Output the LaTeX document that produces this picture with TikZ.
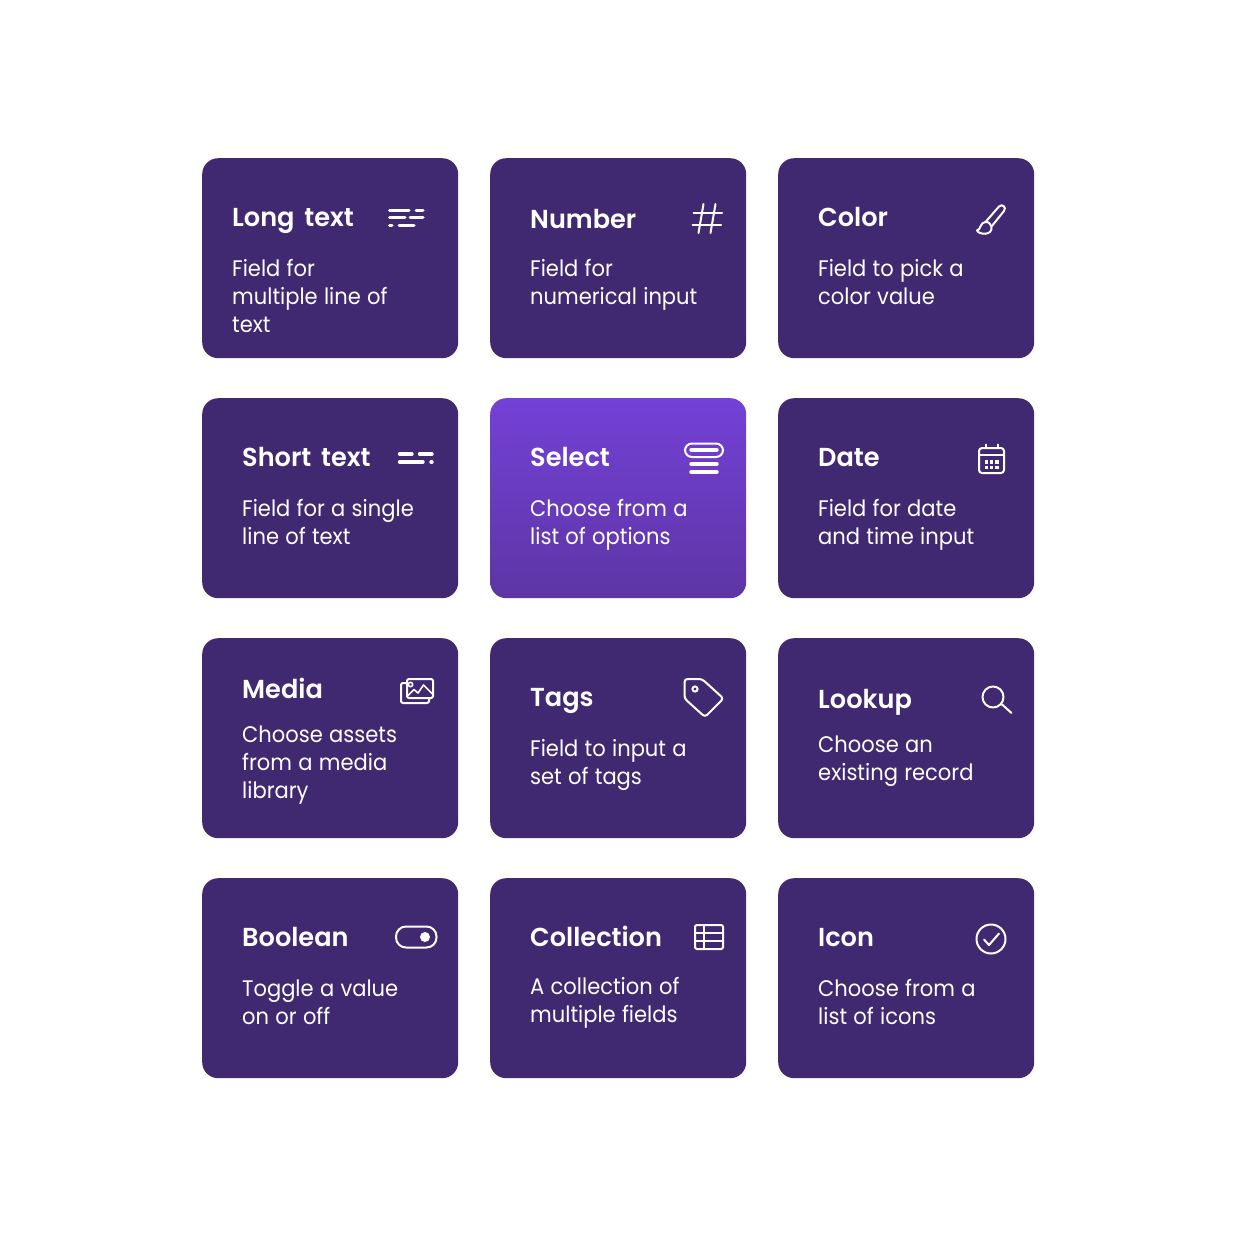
\documentclass[tikz,border=0pt]{standalone}
\usepackage{fontspec}
\setmainfont{Poppins}[FakeStretch=0.935, WordSpace=1.12, BoldFont={Poppins SemiBold}, BoldFeatures={FakeStretch=0.985, WordSpace=1.6}]
\usetikzlibrary{calc}
\definecolor{cardpurple}{HTML}{402970}
\definecolor{selecttop}{HTML}{7341D6}
\definecolor{selectbottom}{HTML}{5E35A5}
\tikzset{
	cardbox/.style={anchor=north west, minimum width=256pt, minimum height=200pt, inner sep=0pt, rounded corners=16pt, fill=cardpurple},
	cardtitle/.style={anchor=base west, inner sep=0pt, text=white, font=\fontsize{26}{30}\selectfont\bfseries},
	carddesc/.style={anchor=base west, inner sep=0pt, text=white, font=\fontsize{22.5}{28}\selectfont},
	iconline/.style={draw=white, line width=2pt, line cap=round, line join=round},
	iconbar/.style={draw=white, line width=3.4pt, line cap=round}
}

\begin{document}
\begin{tikzpicture}[x=1pt, y=-1pt]
	%%%%% START %%%%%
	\useasboundingbox (0, 0) rectangle (1236, 1236);
	
	\node[cardbox] (longtext) at (202, 158) {};
	\node[cardbox] (number) at (490, 158) {};
	\node[cardbox] (color) at (778, 158) {};
	\node[cardbox] (shorttext) at (202, 398) {};
	\node[cardbox, fill=none, top color=selecttop, bottom color=selectbottom] (select) at (490, 398) {};
	\node[cardbox] (date) at (778, 398) {};
	\node[cardbox] (media) at (202, 638) {};
	\node[cardbox] (tags) at (490, 638) {};
	\node[cardbox] (lookup) at (778, 638) {};
	\node[cardbox] (boolean) at (202, 878) {};
	\node[cardbox] (collection) at (490, 878) {};
	\node[cardbox] (icon) at (778, 878) {};
	
	\node[cardtitle] (longtext title) at (232, 226) {Long text};
	\node[carddesc] (longtext line1) at (232, 276) {Field for};
	\node[carddesc] (longtext line2) at (232, 304) {multiple line of};
	\node[carddesc] (longtext line3) at (232, 332) {text};
	\draw[iconbar, line width=3pt] (389.5, 210) -- (409, 210);
	\draw[iconbar, line width=3pt] (416, 210) -- (423, 210);
	\draw[iconbar, line width=3pt] (389.5, 217.5) -- (405, 217.5);
	\draw[iconbar, line width=3pt] (410, 217.5) -- (423, 217.5);
	\draw[iconbar, line width=3pt] (389.5, 225.5) -- (392, 225.5);
	\draw[iconbar, line width=3pt] (399, 225.5) -- (414, 225.5);
	
	\node[cardtitle] (number title) at (530, 228) {Number};
	\node[carddesc] (number line1) at (530, 276) {Field for};
	\node[carddesc] (number line2) at (530, 304) {numerical input};
	\draw[iconline] (693.5, 213) -- (722, 213);
	\draw[iconline] (692.5, 225) -- (721, 225);
	\draw[iconline] (703.5, 204) -- (698.5, 233);
	\draw[iconline] (715.5, 204) -- (710.5, 233);
	
	\node[cardtitle] (color title) at (818, 226) {Color};
	\node[carddesc] (color line1) at (818, 276) {Field to pick a};
	\node[carddesc] (color line2) at (818, 304) {color value};
	\draw[iconline] (985.5, 222) -- (999, 206.5) .. controls (1002, 203.5) and (1007, 207) .. (1004, 211) -- (991.5, 226.5);
	\draw[iconline] (985.5, 222) .. controls (980, 222) and (981, 230) .. (977, 230.5) .. controls (979, 235) and (993, 236) .. (991.5, 226.5) .. controls (991, 224) and (988, 221.5) .. (985.5, 222);
	
	\node[cardtitle] (shorttext title) at (242, 466) {Short text};
	\node[carddesc] (shorttext line1) at (242, 516) {Field for a single};
	\node[carddesc] (shorttext line2) at (242, 544) {line of text};
	\draw[iconbar] (399.5, 454) -- (412, 454);
	\draw[iconbar] (419.5, 454) -- (432, 454);
	\draw[iconbar] (399.5, 462) -- (423, 462);
	\draw[iconbar] (431, 462) -- (432, 462);
	
	\node[cardtitle] (select title) at (530, 466) {Select};
	\node[carddesc] (select line1) at (530, 516) {Choose from a};
	\node[carddesc] (select line2) at (530, 544) {list of options};
	\draw[iconline, rounded corners=7pt] (685, 443.5) rectangle (723, 457);
	\draw[iconbar] (691, 450) -- (717, 450);
	\draw[iconbar] (691, 464) -- (717, 464);
	\draw[iconbar] (691, 472) -- (717, 472);
	
	\node[cardtitle] (date title) at (818, 466) {Date};
	\node[carddesc] (date line1) at (818, 516) {Field for date};
	\node[carddesc] (date line2) at (818, 544) {and time input};
	\draw[iconline, rounded corners=3pt] (979, 448) rectangle (1004, 473);
	\draw[iconline] (979, 455) -- (1004, 455);
	\draw[iconline] (985.5, 444.5) -- (985.5, 448);
	\draw[iconline] (997.5, 444.5) -- (997.5, 448);
	\fill[white] (984.5, 460) rectangle (988, 463.5);
	\fill[white] (989.8, 460) rectangle (993.3, 463.5);
	\fill[white] (995, 460) rectangle (998.5, 463.5);
	\fill[white] (984.5, 465.5) rectangle (988, 469);
	\fill[white] (989.8, 465.5) rectangle (993.3, 469);
	\fill[white] (995, 465.5) rectangle (998.5, 469);
	
	\node[cardtitle] (media title) at (242, 698) {Media};
	\node[carddesc] (media line1) at (242, 742) {Choose assets};
	\node[carddesc] (media line2) at (242, 770) {from a media};
	\node[carddesc] (media line3) at (242, 798) {library};
	\draw[iconline, rounded corners=2pt] (407, 679) rectangle (433, 698);
	\draw[iconline, rounded corners=2pt] (407, 683) -- (401, 683) -- (401, 703) -- (429, 703) -- (429, 698);
	\draw[iconline, line width=1.6pt] (410.5, 684.5) circle (2.2);
	\draw[iconline, line width=1.6pt] (408, 695.5) -- (414, 689.5) -- (418, 693) -- (423.5, 685) -- (432.5, 694);
	
	\node[cardtitle] (tags title) at (530, 706) {Tags};
	\node[carddesc] (tags line1) at (530, 756) {Field to input a};
	\node[carddesc] (tags line2) at (530, 784) {set of tags};
	\draw[iconline, rounded corners=3pt] (684.5, 679) -- (702, 679) -- (723.5, 698.5) -- (705, 717) -- (684.5, 698.5) -- cycle;
	\draw[iconline] (695, 689) circle (2.6);
	
	\node[cardtitle] (lookup title) at (818, 708) {Lookup};
	\node[carddesc] (lookup line1) at (818, 752) {Choose an};
	\node[carddesc] (lookup line2) at (818, 780) {existing record};
	\draw[iconline] (993, 697) circle (10.5);
	\draw[iconline] (1001.5, 704) -- (1011.5, 713);
	
	\node[cardtitle] (boolean title) at (242, 946) {Boolean};
	\node[carddesc] (boolean line1) at (242, 996) {Toggle a value};
	\node[carddesc] (boolean line2) at (242, 1024) {on or off};
	\draw[iconline, rounded corners=10pt] (396, 926.5) rectangle (436.5, 947.5);
	\fill[white] (425, 937) circle (5);
	
	\node[cardtitle] (collection title) at (530, 946) {Collection};
	\node[carddesc] (collection line1) at (530, 994) {A collection of};
	\node[carddesc] (collection line2) at (530, 1022) {multiple fields};
	\draw[iconline, rounded corners=1.5pt] (695, 925) rectangle (723, 949);
	\draw[iconline] (695, 933) -- (723, 933);
	\draw[iconline] (695, 941) -- (723, 941);
	\draw[iconline] (704, 925) -- (704, 949);
	
	\node[cardtitle] (icon title) at (818, 946) {Icon};
	\node[carddesc] (icon line1) at (818, 996) {Choose from a};
	\node[carddesc] (icon line2) at (818, 1024) {list of icons};
	\draw[iconline] (991, 939) circle (14.5);
	\draw[iconline] (984, 939.5) -- (989, 945) -- (999, 933.5);
	
	%%%%% END %%%%%
\end{tikzpicture}
\end{document}
